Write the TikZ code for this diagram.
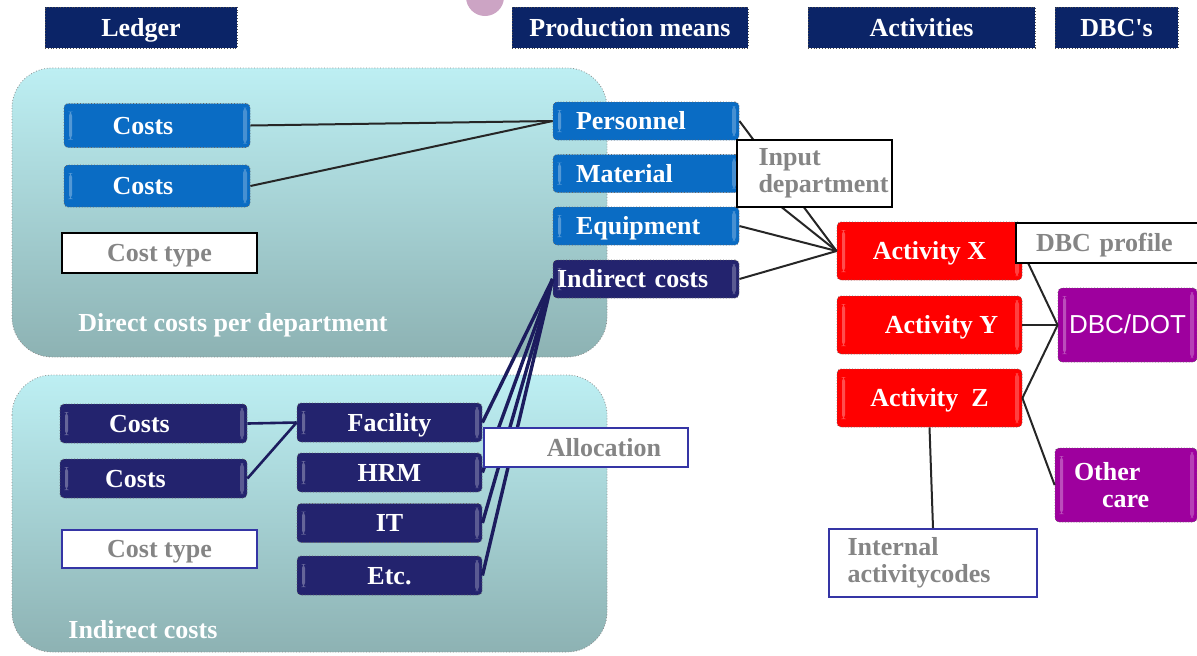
\documentclass[tikz,border=0pt]{standalone}
\usepackage{fontspec}
\setmainfont{Liberation Serif}
\newfontfamily\dbcsans{Liberation Sans}
\usepackage{tikz}
\usetikzlibrary{calc}
\definecolor{headNavy}{HTML}{0B2467}
\definecolor{tileBlue}{HTML}{0A6CC4}
\definecolor{tileNavy}{HTML}{23236E}
\definecolor{actRed}{HTML}{FF0000}
\definecolor{dbcPurple}{HTML}{9E009E}
\definecolor{labelGray}{HTML}{858585}
\definecolor{frameBlue}{HTML}{3535A5}
\definecolor{panelTop}{HTML}{BDEFF3}
\definecolor{panelBottom}{HTML}{8DB2B3}
\definecolor{lineNavy}{HTML}{1C1C5E}
\definecolor{blobPink}{HTML}{CCA4C4}

\tikzset{
  boldtext/.style={font=\fontsize{13}{13.5}\selectfont\bfseries},
  oneline/.style={text height=10.5pt, text depth=2pt},
  header/.style={boldtext, oneline, fill=headNavy, draw=black!70, densely dotted, text=white,
    minimum height=20.5pt, inner sep=0pt},
  tile/.style={boldtext, draw=black!60, densely dotted, rounded corners=2pt, text=white,
    inner sep=0pt, minimum height=19.5pt,
    path picture={
      \fill[white, opacity=0.3]
        ($(path picture bounding box.north west)+(2.5pt,-4pt)$) rectangle
        ($(path picture bounding box.south west)+(4pt,4pt)$);
      \fill[white, opacity=0.25]
        ($(path picture bounding box.north east)+(-3.5pt,-2pt)$) rectangle
        ($(path picture bounding box.south east)+(-1.5pt,2pt)$);
    }},
  blueTile/.style={tile, oneline, fill=tileBlue, minimum width=93pt},
  meansTile/.style={blueTile, text width=70pt, inner xsep=11.5pt, align=left, minimum height=19pt},
  navyTile/.style={tile, fill=tileNavy},
  redTile/.style={tile, oneline, fill=actRed, minimum width=92.5pt, minimum height=29pt},
  dbcTile/.style={tile, fill=dbcPurple, minimum height=37pt},
  note/.style={boldtext, fill=white, draw=black, line width=1pt, text=labelGray, inner sep=0pt},
  blueNote/.style={note, draw=frameBlue},
  panel/.style={draw=black!45, densely dotted, top color=panelTop, bottom color=panelBottom,
    rounded corners=20pt},
  panelTitle/.style={boldtext, text=white, inner sep=0pt, anchor=west},
  link/.style={draw=black!85, line width=1pt},
  navyLink/.style={draw=lineNavy, line width=1.3pt}
}

\begin{document}
\begin{tikzpicture}[x=0.5pt, y=-0.5pt]
  \useasboundingbox (0,0) rectangle (1197,655);
  \clip (0,0) rectangle (1197,655);
  % ── stray blob cut by the top edge
  \fill[blobPink] (485,-3) circle (9.5pt);

  % ── column headers
  \node[header, minimum width=96pt] (ledger) at (141,27.5) {Ledger};
  \node[header, minimum width=118pt] (means) at (630,27.5) {Production means};
  \node[header, minimum width=113.5pt] (activities) at (921.5,27.5) {Activities};
  \node[header, minimum width=61.5pt] (dbcs) at (1116.5,27.5) {DBC\textquotesingle s};

  % ── the two department panels
  \draw[panel] (12,68) rectangle (607,357);
  \draw[panel] (12,375) rectangle (607,652);
  \node[panelTitle] (directTitle) at (78,325) {Direct costs per department};
  \node[panelTitle] (indirectTitle) at (68,630) {Indirect costs};

  % ── direct costs
  \node[blueTile, minimum height=22pt] (costsA) at (157,125.5) {Costs\hspace*{14pt}};
  \node[blueTile, minimum height=21pt] (costsB) at (157,186) {Costs\hspace*{14pt}};

  % ── production means
  \node[meansTile] (personnel) at (646,121) {Personnel};
  \node[meansTile] (material) at (646,173.5) {Material};
  \node[meansTile] (equipment) at (646,226) {Equipment};
  \node[navyTile, oneline, minimum height=19pt, text width=89pt, inner xsep=2pt, align=left]
    (indirect) at (646,279) {Indirect costs};

  % ── indirect costs
  \node[navyTile, oneline, minimum width=93.5pt] (icostsA) at (153.5,423.5) {Costs\hspace*{14pt}};
  \node[navyTile, oneline, minimum width=93.5pt] (icostsB) at (153.5,478.5) {Costs\hspace*{18pt}};
  \foreach \name/\txt/\y in {facility/Facility/422.5, hrm/HRM/472.5, it/IT/523, etc/Etc./575.5} {
    \node[navyTile, oneline, minimum width=92.5pt] (\name) at (389.5,\y) {\txt};
  }

  % ── activities and DBC's
  \node[redTile] (actX) at (929.5,251) {Activity X};
  \node[redTile] (actY) at (929.5,325) {\hspace*{12pt}Activity Y};
  \node[redTile] (actZ) at (929.5,398) {Activity\ \ Z};
  \node[dbcTile, oneline, minimum width=69.5pt, font=\fontsize{13}{15}\dbcsans] (dbcdot) at (1127.5,325) {DBC/DOT};
  \node[dbcTile, minimum width=71pt, text width=52pt, inner xsep=9.5pt, align=left]
    (othercare) at (1126,485) {Other\\\hspace*{14pt}care};

  % ── connectors
  \draw[link] (costsA.east) -- (personnel.west);
  \draw[link] (costsB.east) -- (personnel.west);
  \foreach \src in {personnel,material,equipment,indirect}
    \draw[link] (\src.east) -- (actX.west);
  \foreach \src in {actX,actY,actZ}
    \draw[link] (\src.east) -- (dbcdot.west);
  \draw[link] (actZ.east) -- (othercare.west);
  \draw[navyLink] (icostsA.east) -- (facility.west);
  \draw[navyLink] (icostsB.east) -- (facility.west);
  \foreach \src in {facility,hrm,it,etc}
    \draw[navyLink, line width=1.7pt] (\src.east) -- (indirect.west);

  % ── explanatory labels (on top of the lines)
  \node[note, oneline, minimum width=97.5pt, minimum height=20pt] (costtypeA) at (159.5,253) {Cost type};
  \node[blueNote, oneline, minimum width=97.5pt, minimum height=19pt] (costtypeB) at (159.5,549) {Cost type};
  \node[note, minimum width=77.5pt, minimum height=33.5pt, align=left] (input) at (814.5,173.5)
    {Input\\department\hspace*{-9pt}};
  \node[blueNote, oneline, minimum width=102pt, minimum height=19.5pt] (allocation) at (586,447.5)
    {\hspace*{18pt}Allocation};
  \node[note, oneline, anchor=west, minimum height=20pt, text width=80pt, inner xsep=10pt, align=left]
    (profile) at (1015,243) {DBC profile};
  \node[blueNote, minimum width=104pt, minimum height=34pt, align=left] (internal) at (933,563)
    {Internal\\activitycodes\hspace*{14pt}};
  \draw[link] (actZ.south) -- (internal.north);
\end{tikzpicture}
\end{document}
